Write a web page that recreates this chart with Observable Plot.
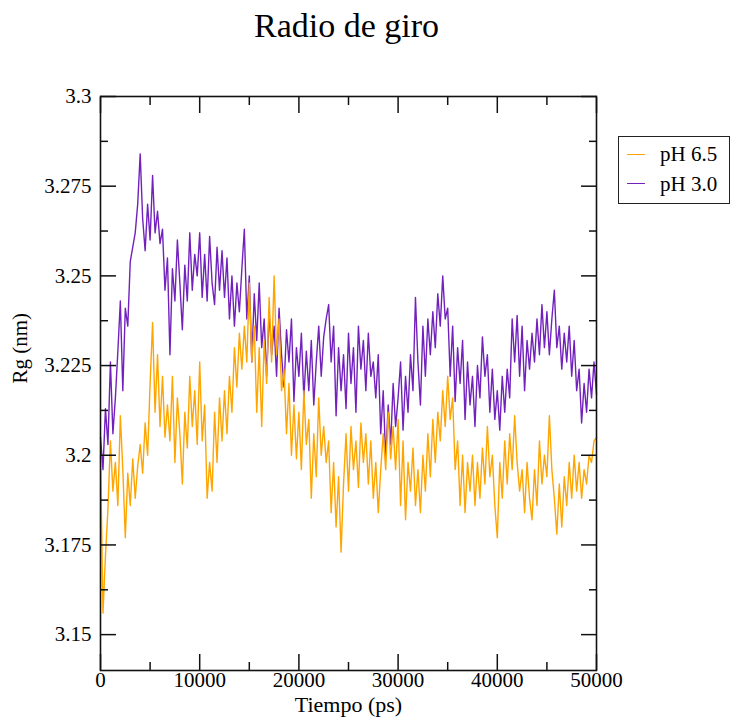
<!DOCTYPE html>
<html>
<head>
<meta charset="utf-8">
<script src="https://cdn.jsdelivr.net/npm/d3@7"></script>
<script src="https://cdn.jsdelivr.net/npm/@observablehq/plot@0.6"></script>
<style>
  body { margin: 0; background: #fff; }
  #wrap { position: relative; width: 731px; height: 723px; font-family: "Liberation Serif", "DejaVu Serif", serif; color: #000; }
  #title { height: 60px; width: 693px; text-align: center; font-size: 34px; line-height: 34px; padding-top: 9px; box-sizing: border-box; font-family: "Liberation Serif", serif; }
  #chart svg, #chart svg text { font-family: "Liberation Serif", "DejaVu Serif", serif !important; }
  #legend { position: absolute; left: 618px; top: 136px; width: 112px; height: 68px; border: 1.5px solid #222; box-sizing: border-box; background: #fff; }
  .sw { position: absolute; left: 8px; width: 18px; height: 0; border-top: 1.2px solid; }
  .lt { position: absolute; left: 41px; font-size: 21px; line-height: 21px; white-space: nowrap; font-family: "Liberation Serif", serif; }
</style>
</head>
<body>
<div id="wrap">
  <div id="title">Radio de giro</div>
  <div id="chart"></div>
  <div id="legend"></div>
</div>
<script>
// Series labels and colours
const seriesNames = ["pH 6.5", "pH 3.0"];
const seriesColors = ["#ffa500", "#7221bc"];

const timeStep = 250;

// Rg (nm) for pH 6.5, read every 250 ps from 0 to 50000 ps
const rgPH65 = [
  3.200, 3.156, 3.172, 3.185, 3.204, 3.190, 3.198, 3.186, 3.211, 3.196,
  3.177, 3.195, 3.186, 3.199, 3.188, 3.197, 3.203, 3.195, 3.209, 3.200,
  3.220, 3.237, 3.212, 3.228, 3.208, 3.222, 3.205, 3.214, 3.204, 3.222,
  3.198, 3.216, 3.206, 3.192, 3.212, 3.202, 3.222, 3.208, 3.218, 3.203,
  3.226, 3.204, 3.214, 3.188, 3.198, 3.190, 3.212, 3.198, 3.216, 3.204,
  3.218, 3.206, 3.222, 3.212, 3.230, 3.219, 3.234, 3.224, 3.236, 3.226,
  3.248, 3.226, 3.236, 3.212, 3.230, 3.208, 3.232, 3.220, 3.244, 3.226,
  3.250, 3.228, 3.238, 3.218, 3.224, 3.206, 3.220, 3.200, 3.214, 3.199,
  3.212, 3.196, 3.218, 3.203, 3.210, 3.188, 3.206, 3.194, 3.216, 3.200,
  3.208, 3.198, 3.204, 3.184, 3.198, 3.180, 3.194, 3.173, 3.192, 3.206,
  3.190, 3.208, 3.196, 3.204, 3.191, 3.209, 3.198, 3.206, 3.192, 3.204,
  3.188, 3.198, 3.184, 3.196, 3.206, 3.196, 3.212, 3.199, 3.208, 3.196,
  3.210, 3.186, 3.204, 3.182, 3.198, 3.190, 3.202, 3.186, 3.196, 3.184,
  3.200, 3.190, 3.206, 3.194, 3.210, 3.198, 3.212, 3.204, 3.218, 3.208,
  3.222, 3.210, 3.216, 3.196, 3.204, 3.186, 3.200, 3.184, 3.198, 3.190,
  3.200, 3.186, 3.198, 3.188, 3.202, 3.192, 3.208, 3.194, 3.200, 3.186,
  3.177, 3.198, 3.188, 3.204, 3.192, 3.206, 3.196, 3.211, 3.198, 3.190,
  3.196, 3.184, 3.198, 3.188, 3.182, 3.196, 3.186, 3.204, 3.192, 3.200,
  3.194, 3.211, 3.196, 3.188, 3.178, 3.192, 3.180, 3.194, 3.186, 3.198,
  3.188, 3.200, 3.190, 3.198, 3.188, 3.196, 3.192, 3.200, 3.198, 3.204, 3.205
];

// Rg (nm) for pH 3.0, read every 250 ps from 0 to 50000 ps
const rgPH30 = [
  3.205, 3.196, 3.213, 3.203, 3.226, 3.206, 3.216, 3.229, 3.243, 3.218,
  3.241, 3.236, 3.254, 3.258, 3.262, 3.270, 3.284, 3.266, 3.257, 3.270,
  3.260, 3.278, 3.262, 3.268, 3.259, 3.263, 3.246, 3.255, 3.228, 3.252,
  3.243, 3.260, 3.248, 3.235, 3.253, 3.243, 3.262, 3.246, 3.256, 3.250,
  3.262, 3.244, 3.256, 3.243, 3.261, 3.248, 3.242, 3.258, 3.246, 3.257,
  3.244, 3.255, 3.238, 3.250, 3.236, 3.248, 3.240, 3.252, 3.263, 3.238,
  3.250, 3.226, 3.245, 3.232, 3.248, 3.230, 3.238, 3.222, 3.240, 3.228,
  3.236, 3.222, 3.241, 3.228, 3.219, 3.235, 3.226, 3.238, 3.215, 3.230,
  3.222, 3.234, 3.216, 3.229, 3.218, 3.232, 3.214, 3.226, 3.236, 3.222,
  3.233, 3.238, 3.242, 3.226, 3.236, 3.211, 3.230, 3.218, 3.228, 3.213,
  3.234, 3.220, 3.230, 3.212, 3.236, 3.224, 3.232, 3.218, 3.234, 3.222,
  3.226, 3.216, 3.228, 3.206, 3.218, 3.199, 3.214, 3.203, 3.220, 3.208,
  3.216, 3.226, 3.207, 3.222, 3.212, 3.228, 3.218, 3.244, 3.226, 3.214,
  3.236, 3.222, 3.238, 3.228, 3.240, 3.230, 3.245, 3.236, 3.250, 3.238,
  3.241, 3.222, 3.236, 3.215, 3.230, 3.220, 3.232, 3.210, 3.226, 3.214,
  3.222, 3.208, 3.225, 3.216, 3.233, 3.222, 3.228, 3.212, 3.224, 3.210,
  3.218, 3.207, 3.222, 3.212, 3.224, 3.216, 3.238, 3.226, 3.239, 3.222,
  3.236, 3.218, 3.232, 3.224, 3.234, 3.226, 3.238, 3.228, 3.242, 3.230,
  3.240, 3.228, 3.238, 3.246, 3.230, 3.236, 3.224, 3.234, 3.226, 3.236,
  3.222, 3.232, 3.218, 3.224, 3.209, 3.220, 3.212, 3.224, 3.216, 3.226, 3.217
];

// Axis ticks
const xMajorTicks = [0, 10000, 20000, 30000, 40000, 50000];
const xMinorTicks = [5000, 15000, 25000, 35000, 45000];
const yMajorTicks = [3.15, 3.175, 3.2, 3.225, 3.25, 3.275, 3.3];
const yMinorTicks = [3.1625, 3.1875, 3.2125, 3.2375, 3.2625, 3.2875];

const toRows = (vals) => vals.map((v, i) => ({t: i * timeStep, rg: v}));
const rows65 = toRows(rgPH65);
const rows30 = toRows(rgPH30);

const serif = '"Liberation Serif", "DejaVu Serif", serif';
const axisStroke = "#111";

const chart = Plot.plot({
  width: 731,
  height: 663,
  marginLeft: 100,
  marginRight: 135,
  marginTop: 36,
  marginBottom: 53,
  x: {domain: [0, 50000]},
  y: {domain: [3.14, 3.3]},
  style: {fontFamily: serif, fontSize: "20px", background: "#fff", color: "#000", overflow: "visible"},
  marks: [
    Plot.line(rows30, {x: "t", y: "rg", stroke: seriesColors[1], strokeWidth: 1.4}),
    Plot.line(rows65, {x: "t", y: "rg", stroke: seriesColors[0], strokeWidth: 1.4}),
    // inward major ticks on all four sides
    Plot.axisY(yMajorTicks, {anchor: "left", tickSize: 16, dx: 16, fill: "none", label: null, stroke: axisStroke, strokeWidth: 1.5}),
    Plot.axisY(yMajorTicks, {anchor: "right", tickSize: 16, dx: -16, fill: "none", label: null, stroke: axisStroke, strokeWidth: 1.5}),
    Plot.axisY(yMinorTicks, {anchor: "left", tickSize: 8, dx: 8, fill: "none", label: null, stroke: axisStroke, strokeWidth: 1.5}),
    Plot.axisY(yMinorTicks, {anchor: "right", tickSize: 8, dx: -8, fill: "none", label: null, stroke: axisStroke, strokeWidth: 1.5}),
    Plot.axisX(xMajorTicks, {anchor: "bottom", tickSize: 16, dy: -16, fill: "none", label: null, stroke: axisStroke, strokeWidth: 1.5}),
    Plot.axisX(xMajorTicks, {anchor: "top", tickSize: 16, dy: 16, fill: "none", label: null, stroke: axisStroke, strokeWidth: 1.5}),
    Plot.axisX(xMinorTicks, {anchor: "bottom", tickSize: 8, dy: -8, fill: "none", label: null, stroke: axisStroke, strokeWidth: 1.5}),
    Plot.axisX(xMinorTicks, {anchor: "top", tickSize: 8, dy: 8, fill: "none", label: null, stroke: axisStroke, strokeWidth: 1.5}),
    // tick labels
    Plot.axisY(yMajorTicks, {anchor: "left", tickSize: 0, tickPadding: 9, label: null, fill: "#000", fontFamily: serif, fontSize: 21,
      tickFormat: (d) => d3.format(".4~f")(d)}),
    Plot.axisX(xMajorTicks, {anchor: "bottom", tickSize: 0, tickPadding: 2, label: null, fill: "#000", fontFamily: serif, fontSize: 21,
      tickFormat: (d) => d3.format("d")(d)}),
    // axis titles
    Plot.text(["Rg (nm)"], {frameAnchor: "left", dx: -80, rotate: -90, fontSize: 21, fontFamily: serif, fill: "#000"}),
    Plot.text(["Tiempo (ps)"], {frameAnchor: "bottom", dy: 41, fontSize: 22, fontFamily: serif, fill: "#000"}),
    Plot.frame({stroke: axisStroke, strokeWidth: 1.6})
  ]
});
document.getElementById("chart").appendChild(chart);

// Legend
const legend = document.getElementById("legend");
const swTops = [17, 46];
const txtTops = [7, 37];
seriesNames.forEach((name, i) => {
  const sw = document.createElement("div");
  sw.className = "sw";
  sw.style.top = swTops[i] + "px";
  sw.style.borderTopColor = seriesColors[i];
  legend.appendChild(sw);
  const lt = document.createElement("div");
  lt.className = "lt";
  lt.style.top = txtTops[i] + "px";
  lt.textContent = name;
  legend.appendChild(lt);
});
</script>
</body>
</html>
